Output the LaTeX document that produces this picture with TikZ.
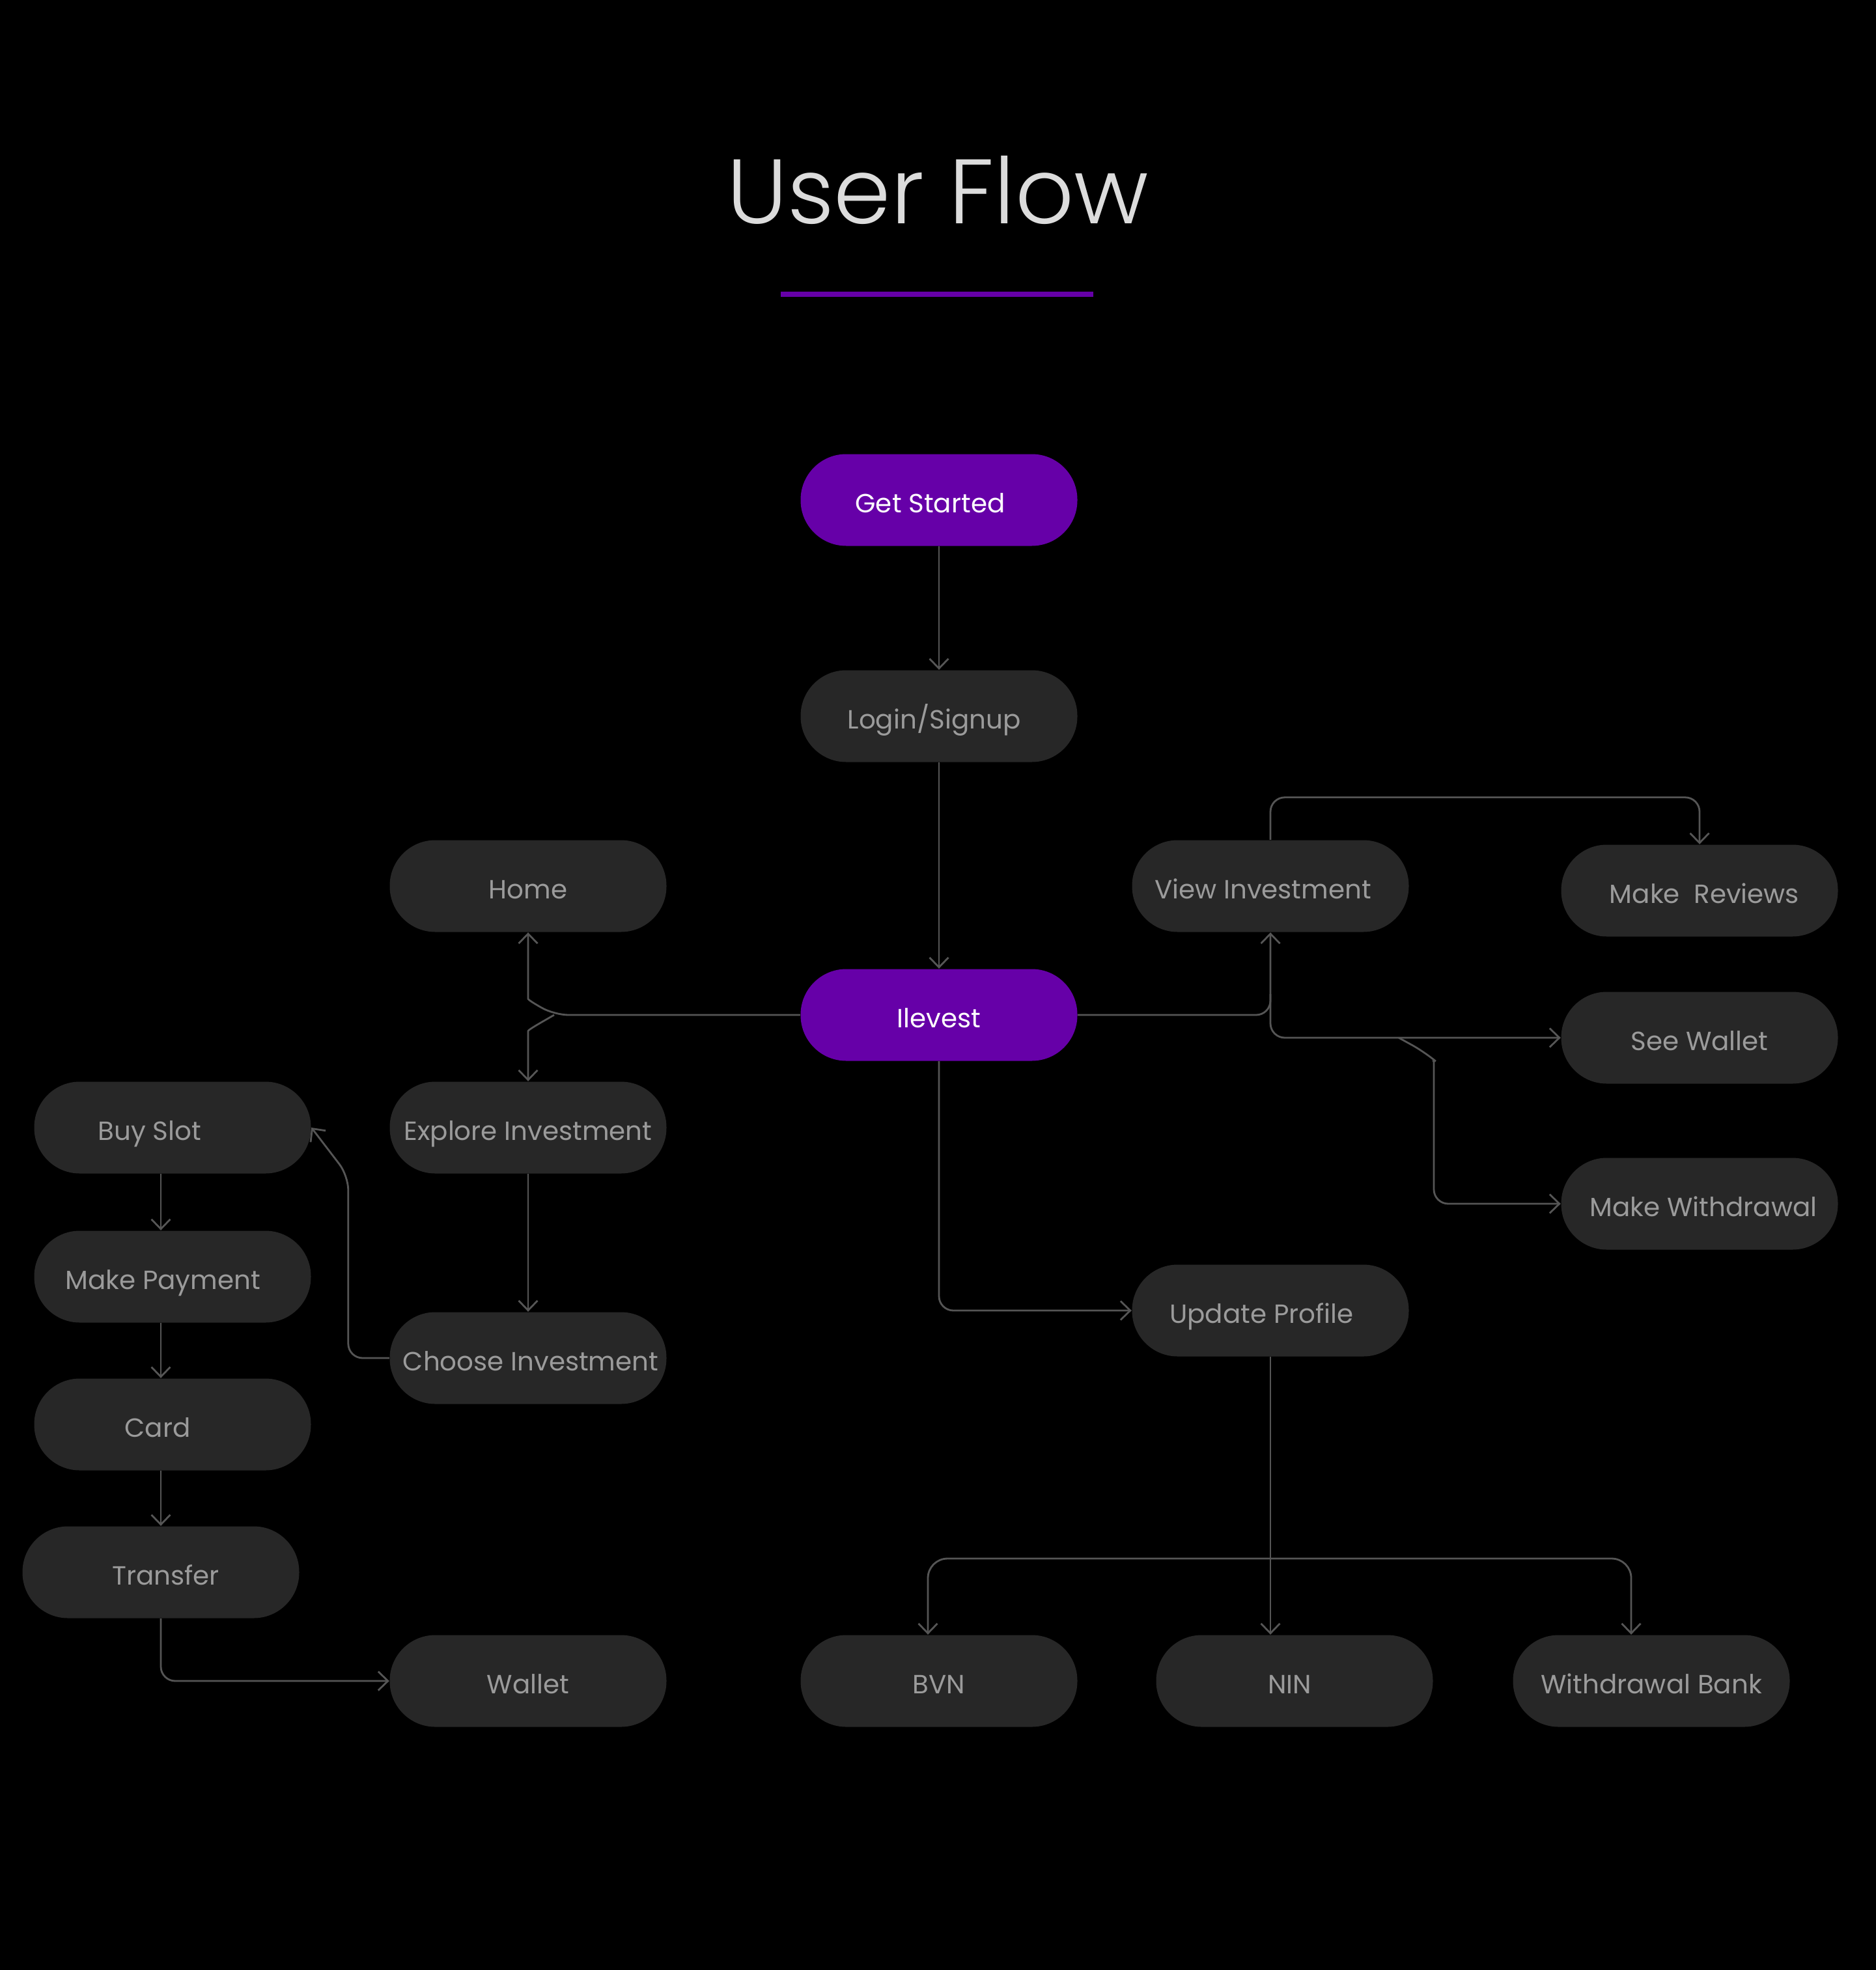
\documentclass[tikz,border=0pt]{standalone}
\usepackage{fontspec}
\setmainfont{Poppins}
\newfontfamily\titlefont{Poppins Light}
\usepackage{tikz}
\usetikzlibrary{arrows.meta}
\usetikzlibrary{shapes}

\definecolor{bgblack}{HTML}{000000}
\definecolor{brandpurple}{HTML}{6600A8}
\definecolor{boxgray}{HTML}{272727}
\definecolor{txtgray}{HTML}{9B9B9B}
\definecolor{linkgray}{HTML}{555555}
\definecolor{titlegray}{HTML}{DCDCDC}

\begin{document}
\begin{tikzpicture}
			[box/.style={rectangle, rounded corners=0.7cm, fill=boxgray, text=txtgray, minimum width=4.25cm, minimum height=1.41cm, inner sep=0pt, text height=0.39cm, text depth=0pt, font=\fontsize{11.5pt}{14pt}\selectfont},
			 mainbox/.style={box, fill=brandpurple, text=white},
			 tx/.style={execute at begin node={\hspace*{#1}}},
			 link/.style={draw=linkgray, line width=0.8pt, rounded corners=0.22cm, -{Straight Barb[length=1.5mm, width=2.9mm]}}]
			
			\useasboundingbox (0,0) rectangle (28.8,-30.26);
			\fill[bgblack] (-0.1,0.1) rectangle (28.9,-30.36);
			
			\node[anchor=base, text=titlegray, font=\titlefont\fontsize{40pt}{48pt}\selectfont] (title) at (14.4,-3.44) {User Flow};
			\draw[brandpurple, line width=0.08cm] (11.99,-4.52) -- (16.79,-4.52);
			
			\node[mainbox, tx=-0.27cm] (start) at (14.42,-7.68) {Get Started};
			\node[box, tx=-0.15cm] (login) at (14.42,-11.00) {Login/Signup};
			\node[mainbox] (ilevest) at (14.42,-15.59) {Ilevest};
			\node[box] (home) at (8.11,-13.61) {Home};
			\node[box] (explore) at (8.11,-17.32) {Explore Investment};
			\node[box, tx=0.08cm] (choose) at (8.11,-20.86) {Choose Investment};
			\node[box] (wallet) at (8.11,-25.82) {Wallet};
			\node[box, tx=-0.70cm] (buy) at (2.65,-17.32) {Buy Slot};
			\node[box, tx=-0.30cm] (payment) at (2.65,-19.61) {Make Payment};
			\node[box, tx=-0.46cm] (card) at (2.65,-21.88) {Card};
			\node[box, tx=0.15cm] (transfer) at (2.47,-24.15) {Transfer};
			\node[box, tx=-0.23cm] (view) at (19.51,-13.61) {View Investment};
			\node[box, tx=0.15cm] (reviews) at (26.10,-13.68) {Make\ \ Reviews};
			\node[box] (seewallet) at (26.10,-15.94) {See Wallet};
			\node[box, tx=0.12cm] (withdraw) at (26.10,-18.49) {Make Withdrawal};
			\node[box, tx=-0.27cm] (profile) at (19.51,-20.13) {Update Profile};
			\node[box] (bvn) at (14.42,-25.82) {BVN};
			\node[box, tx=-0.15cm] (nin) at (19.88,-25.82) {NIN};
			\node[box] (bank) at (25.36,-25.82) {Withdrawal Bank};
			
			\coordinate (hj) at (8.51,-15.59);
			\coordinate (vj) at ([yshift=-0.95cm]view.south);
			\coordinate (wj) at (21.48,-15.94);
			\coordinate (bus) at (19.51,-23.94);
			
			\draw[link] (start.south) -- (login.north);
			\draw[link] (login.south) -- (ilevest.north);
			
			% left side
			\draw[link] (ilevest.west) -- (hj) to[out=150, in=-90] ([yshift=-0.8cm]home.south) -- (home.south);
			\draw[link] (hj) to[out=-150, in=90] ([yshift=0.55cm]explore.north) -- (explore.north);
			\draw[link] (explore.south) -- (choose.north);
			\draw[link] (choose.west) -- ++(-0.63,0) -- ++(0,2.8) -- (buy.east);
			\draw[link] (buy.south -| transfer.north) -- (payment.north -| transfer.north);
			\draw[link] (payment.south -| transfer.north) -- (card.north -| transfer.north);
			\draw[link] (card.south -| transfer.north) -- (transfer.north);
			\draw[link] (transfer.south) |- (wallet.west);
			
			% right side
			\draw[link] (ilevest.east) -| (view.south);
			\draw[link] (view.north) -- ++(0,0.65) -| (reviews.north);
			\draw[link] (vj) |- (seewallet.west);
			\draw[link] (wj) -- ++(0.4,-0.22) to[out=-40, in=90] ++(0.14,-0.33) |- (withdraw.west);
			\draw[link] (ilevest.south) |- (profile.west);
			
			% profile
			\draw[link] (profile.south) -- (profile.south |- nin.north);
			\draw[link, rounded corners=0.3cm] (bus) -| ([xshift=-0.17cm]bvn.north);
			\draw[link, rounded corners=0.3cm] (bus) -| ([xshift=-0.31cm]bank.north);
		\end{tikzpicture}
\end{document}
